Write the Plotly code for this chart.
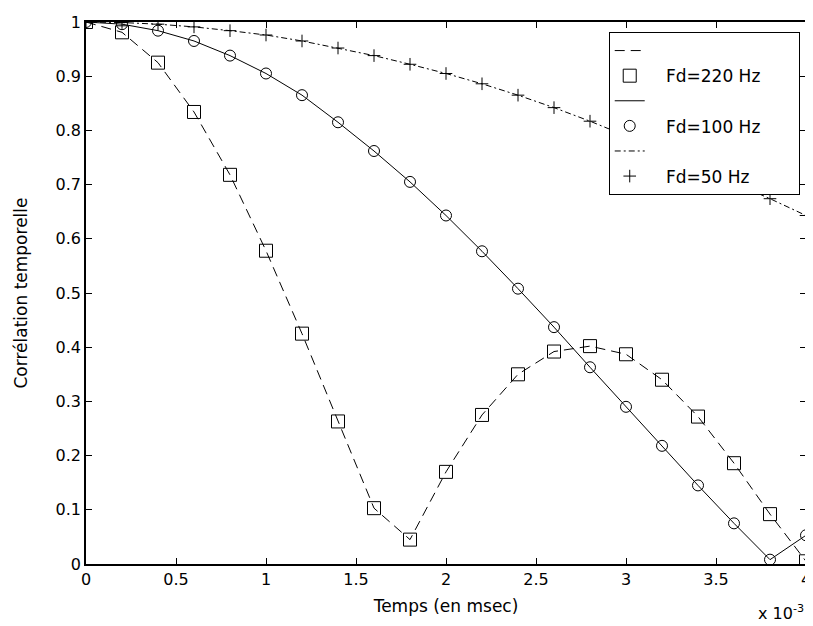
import plotly.graph_objects as go

t_ms = [0, 0.2, 0.4, 0.6, 0.8, 1.0, 1.2, 1.4, 1.6, 1.8, 2.0, 2.2, 2.4, 2.6, 2.8, 3.0, 3.2, 3.4, 3.6, 3.8, 4.0]
fd220 = [1.0, 0.981, 0.925, 0.834, 0.718, 0.578, 0.425, 0.263, 0.103, 0.045, 0.170, 0.275, 0.350, 0.392, 0.402, 0.387, 0.340, 0.272, 0.186, 0.092, 0.005]
fd100 = [1.0, 0.996, 0.984, 0.965, 0.938, 0.905, 0.865, 0.815, 0.762, 0.705, 0.643, 0.577, 0.508, 0.437, 0.363, 0.290, 0.218, 0.145, 0.075, 0.008, 0.053]
fd50 = [1.0, 0.999, 0.996, 0.991, 0.984, 0.976, 0.965, 0.952, 0.938, 0.922, 0.905, 0.886, 0.865, 0.842, 0.817, 0.790, 0.763, 0.734, 0.703, 0.674, 0.643]
names = ["Fd=220 Hz", "Fd=100 Hz", "Fd=50 Hz"]
xtick_vals = [0, 0.5, 1, 1.5, 2, 2.5, 3, 3.5, 4]
xtick_text = ["0", "0.5", "1", "1.5", "2", "2.5", "3", "3.5", "4"]
ytick_vals = [0, 0.1, 0.2, 0.3, 0.4, 0.5, 0.6, 0.7, 0.8, 0.9, 1]
ytick_text = ["0", "0.1", "0.2", "0.3", "0.4", "0.5", "0.6", "0.7", "0.8", "0.9", "1"]

series = [fd220, fd100, fd50]
dashes = ["10px,6px", "solid", "6px,3px,2px,3px"]
symbols = ["square-open", "circle-open", "cross-thin-open"]
msizes = [13, 11, 9]

FONT = "DejaVu Sans, Liberation Sans, Arial"
NB = "\u00a0"
fig = go.Figure()
for y, nm, ds, sym, ms in zip(series, names, dashes, symbols, msizes):
    fig.add_trace(go.Scatter(x=t_ms, y=y, mode="lines", name=" ",
                             line=dict(color="black", width=1, dash=ds)))
    fig.add_trace(go.Scatter(x=t_ms, y=y, mode="markers", name=NB * 3 + nm + NB * 6,
                             marker=dict(symbol=sym, size=ms, color="black",
                                         line=dict(color="black", width=1))))

# page body has an 8px margin, so the figure is sized to fit the window
fig.update_layout(
    width=805, height=618,
    margin=dict(l=78, r=7, t=14, b=62, autoexpand=False),
    paper_bgcolor="white", plot_bgcolor="white",
    font=dict(family=FONT, size=16, color="black"),
    showlegend=True,
    legend=dict(x=0.726, y=0.9815, xanchor="left", yanchor="top",
                bordercolor="black", borderwidth=1, bgcolor="white",
                font=dict(size=17, family=FONT), tracegroupgap=0),
    annotations=[dict(text="x 10<sup>-3</sup>", x=1, y=0, xref="paper", yref="paper",
                      xanchor="right", yanchor="bottom", yshift=-61, showarrow=False,
                      font=dict(size=16, family=FONT))],
)
fig.update_xaxes(range=[0, 4], tickvals=xtick_vals, ticktext=xtick_text, automargin=False,
                 showline=True, mirror="ticks", linecolor="black", linewidth=1.5,
                 ticks="inside", ticklen=6, tickcolor="black", showgrid=False, zeroline=False,
                 tickfont=dict(size=16, family=FONT),
                 title=dict(text="Temps (en msec)", standoff=12, font=dict(size=17, family=FONT)))
fig.update_yaxes(range=[0, 1], tickvals=ytick_vals, ticktext=ytick_text, automargin=False,
                 showline=True, mirror="ticks", linecolor="black", linewidth=1.5,
                 ticks="inside", ticklen=6, tickcolor="black", showgrid=False, zeroline=False,
                 tickfont=dict(size=16, family=FONT),
                 title=dict(text="Corrélation temporelle", standoff=24, font=dict(size=17, family=FONT)))

fig.write_html("out.html")
